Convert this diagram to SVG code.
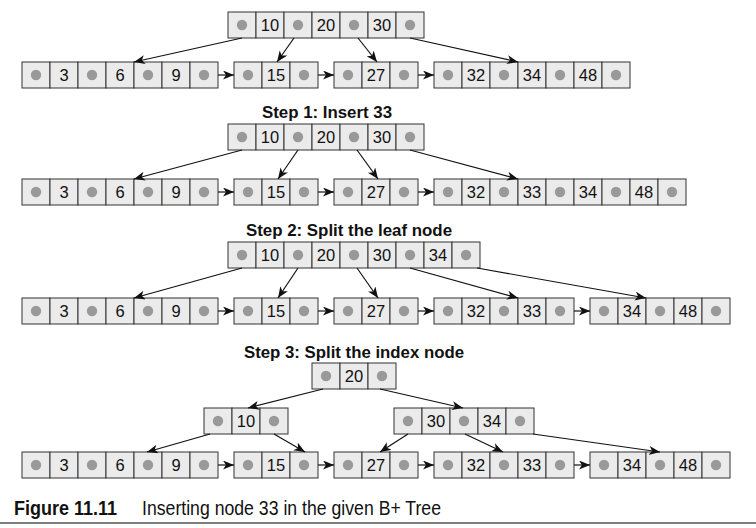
<svg xmlns="http://www.w3.org/2000/svg" xmlns:xlink="http://www.w3.org/1999/xlink" width="756" height="528" viewBox="0 0 756 528">
<style>
.c{fill:#ebebeb;stroke:#333;stroke-width:1}
.d{fill:#999}
.k{font-family:"Liberation Sans",Arial,sans-serif;font-size:16.5px;fill:#111;text-anchor:middle}
.t{font-family:"Liberation Sans",Arial,sans-serif;font-size:16px;font-weight:bold;fill:#111;text-anchor:middle}
.a{stroke:#111;stroke-width:1.2;fill:none;marker-end:url(#ah)}
.cap{font-family:"Liberation Sans",Arial,sans-serif;font-size:21px;fill:#111}
</style>
<defs>
<marker id="ah" markerUnits="userSpaceOnUse" markerWidth="12" markerHeight="10" refX="11" refY="4.5" orient="auto" viewBox="0 0 12 10">
<path d="M0,0 L11,4.5 L0,9 L3,4.5 z" fill="#111"/>
</marker>
<g id="p"><rect width="28" height="26" class="c"/><circle cx="14" cy="13" r="5.2" class="d"/></g>
<rect id="q" width="28" height="26" class="c"/>
</defs>
<rect width="756" height="528" fill="#fff"/>

<!-- Section 0 -->
<g id="s0-idx">
<use href="#p" x="228" y="12"/><use href="#q" x="256" y="12"/><use href="#p" x="284" y="12"/><use href="#q" x="312" y="12"/><use href="#p" x="340" y="12"/><use href="#q" x="368" y="12"/><use href="#p" x="396" y="12"/>
<text class="k" x="270" y="31">10</text><text class="k" x="326" y="31">20</text><text class="k" x="382" y="31">30</text>
</g>
<g id="s0-l1">
<use href="#p" x="22" y="62"/><use href="#q" x="50" y="62"/><use href="#p" x="78" y="62"/><use href="#q" x="106" y="62"/><use href="#p" x="134" y="62"/><use href="#q" x="162" y="62"/><use href="#p" x="190" y="62"/>
<text class="k" x="64" y="81">3</text><text class="k" x="120" y="81">6</text><text class="k" x="176" y="81">9</text>
</g>
<g id="s0-l2">
<use href="#p" x="234" y="62"/><use href="#q" x="262" y="62"/><use href="#p" x="290" y="62"/>
<text class="k" x="276" y="81">15</text>
</g>
<g id="s0-l3">
<use href="#p" x="334" y="62"/><use href="#q" x="362" y="62"/><use href="#p" x="390" y="62"/>
<text class="k" x="376" y="81">27</text>
</g>
<g id="s0-l4">
<use href="#p" x="434" y="62"/><use href="#q" x="462" y="62"/><use href="#p" x="490" y="62"/><use href="#q" x="518" y="62"/><use href="#p" x="546" y="62"/><use href="#q" x="574" y="62"/><use href="#p" x="602" y="62"/>
<text class="k" x="476" y="81">32</text><text class="k" x="532" y="81">34</text><text class="k" x="588" y="81">48</text>
</g>

<!-- Section 1 -->
<text class="t" x="327" y="118" textLength="130" lengthAdjust="spacingAndGlyphs">Step 1: Insert 33</text>
<g id="s1-idx">
<use href="#p" x="228" y="124"/><use href="#q" x="256" y="124"/><use href="#p" x="284" y="124"/><use href="#q" x="312" y="124"/><use href="#p" x="340" y="124"/><use href="#q" x="368" y="124"/><use href="#p" x="396" y="124"/>
<text class="k" x="270" y="143">10</text><text class="k" x="326" y="143">20</text><text class="k" x="382" y="143">30</text>
</g>
<g id="s1-l1">
<use href="#p" x="22" y="179"/><use href="#q" x="50" y="179"/><use href="#p" x="78" y="179"/><use href="#q" x="106" y="179"/><use href="#p" x="134" y="179"/><use href="#q" x="162" y="179"/><use href="#p" x="190" y="179"/>
<text class="k" x="64" y="198">3</text><text class="k" x="120" y="198">6</text><text class="k" x="176" y="198">9</text>
</g>
<g id="s1-l2">
<use href="#p" x="234" y="179"/><use href="#q" x="262" y="179"/><use href="#p" x="290" y="179"/>
<text class="k" x="276" y="198">15</text>
</g>
<g id="s1-l3">
<use href="#p" x="334" y="179"/><use href="#q" x="362" y="179"/><use href="#p" x="390" y="179"/>
<text class="k" x="376" y="198">27</text>
</g>
<g id="s1-l4">
<use href="#p" x="434" y="179"/><use href="#q" x="462" y="179"/><use href="#p" x="490" y="179"/><use href="#q" x="518" y="179"/><use href="#p" x="546" y="179"/><use href="#q" x="574" y="179"/><use href="#p" x="602" y="179"/><use href="#q" x="630" y="179"/><use href="#p" x="658" y="179"/>
<text class="k" x="476" y="198">32</text><text class="k" x="532" y="198">33</text><text class="k" x="588" y="198">34</text><text class="k" x="644" y="198">48</text>
</g>

<!-- Section 2 -->
<text class="t" x="349" y="236" textLength="206" lengthAdjust="spacingAndGlyphs">Step 2: Split the leaf node</text>
<g id="s2-idx">
<use href="#p" x="228" y="242"/><use href="#q" x="256" y="242"/><use href="#p" x="284" y="242"/><use href="#q" x="312" y="242"/><use href="#p" x="340" y="242"/><use href="#q" x="368" y="242"/><use href="#p" x="396" y="242"/><use href="#q" x="424" y="242"/><use href="#p" x="452" y="242"/>
<text class="k" x="270" y="261">10</text><text class="k" x="326" y="261">20</text><text class="k" x="382" y="261">30</text><text class="k" x="438" y="261">34</text>
</g>
<g id="s2-l1">
<use href="#p" x="22" y="298"/><use href="#q" x="50" y="298"/><use href="#p" x="78" y="298"/><use href="#q" x="106" y="298"/><use href="#p" x="134" y="298"/><use href="#q" x="162" y="298"/><use href="#p" x="190" y="298"/>
<text class="k" x="64" y="317">3</text><text class="k" x="120" y="317">6</text><text class="k" x="176" y="317">9</text>
</g>
<g id="s2-l2">
<use href="#p" x="234" y="298"/><use href="#q" x="262" y="298"/><use href="#p" x="290" y="298"/>
<text class="k" x="276" y="317">15</text>
</g>
<g id="s2-l3">
<use href="#p" x="334" y="298"/><use href="#q" x="362" y="298"/><use href="#p" x="390" y="298"/>
<text class="k" x="376" y="317">27</text>
</g>
<g id="s2-l4">
<use href="#p" x="434" y="298"/><use href="#q" x="462" y="298"/><use href="#p" x="490" y="298"/><use href="#q" x="518" y="298"/><use href="#p" x="546" y="298"/>
<text class="k" x="476" y="317">32</text><text class="k" x="532" y="317">33</text>
</g>
<g id="s2-l5">
<use href="#p" x="590" y="298"/><use href="#q" x="618" y="298"/><use href="#p" x="646" y="298"/><use href="#q" x="674" y="298"/><use href="#p" x="702" y="298"/>
<text class="k" x="632" y="317">34</text><text class="k" x="688" y="317">48</text>
</g>

<!-- Section 3 -->
<text class="t" x="354" y="358" textLength="220" lengthAdjust="spacingAndGlyphs">Step 3: Split the index node</text>
<g id="s3-root">
<use href="#p" x="312" y="363"/><use href="#q" x="340" y="363"/><use href="#p" x="368" y="363"/>
<text class="k" x="354" y="382">20</text>
</g>
<g id="s3-i1">
<use href="#p" x="204" y="408"/><use href="#q" x="232" y="408"/><use href="#p" x="260" y="408"/>
<text class="k" x="246" y="427">10</text>
</g>
<g id="s3-i2">
<use href="#p" x="394" y="408"/><use href="#q" x="422" y="408"/><use href="#p" x="450" y="408"/><use href="#q" x="478" y="408"/><use href="#p" x="506" y="408"/>
<text class="k" x="436" y="427">30</text><text class="k" x="492" y="427">34</text>
</g>
<g id="s3-l1">
<use href="#p" x="22" y="452"/><use href="#q" x="50" y="452"/><use href="#p" x="78" y="452"/><use href="#q" x="106" y="452"/><use href="#p" x="134" y="452"/><use href="#q" x="162" y="452"/><use href="#p" x="190" y="452"/>
<text class="k" x="64" y="471">3</text><text class="k" x="120" y="471">6</text><text class="k" x="176" y="471">9</text>
</g>
<g id="s3-l2">
<use href="#p" x="234" y="452"/><use href="#q" x="262" y="452"/><use href="#p" x="290" y="452"/>
<text class="k" x="276" y="471">15</text>
</g>
<g id="s3-l3">
<use href="#p" x="334" y="452"/><use href="#q" x="362" y="452"/><use href="#p" x="390" y="452"/>
<text class="k" x="376" y="471">27</text>
</g>
<g id="s3-l4">
<use href="#p" x="434" y="452"/><use href="#q" x="462" y="452"/><use href="#p" x="490" y="452"/><use href="#q" x="518" y="452"/><use href="#p" x="546" y="452"/>
<text class="k" x="476" y="471">32</text><text class="k" x="532" y="471">33</text>
</g>
<g id="s3-l5">
<use href="#p" x="590" y="452"/><use href="#q" x="618" y="452"/><use href="#p" x="646" y="452"/><use href="#q" x="674" y="452"/><use href="#p" x="702" y="452"/>
<text class="k" x="632" y="471">34</text><text class="k" x="688" y="471">48</text>
</g>

<g id="connectors">
<line class="a" x1="242" y1="38" x2="134" y2="62"/>
<line class="a" x1="294" y1="38" x2="277" y2="62"/>
<line class="a" x1="358" y1="38" x2="377" y2="62"/>
<line class="a" x1="410" y1="38" x2="518" y2="62"/>
<line class="a" x1="218" y1="75" x2="234" y2="75"/>
<line class="a" x1="318" y1="75" x2="334" y2="75"/>
<line class="a" x1="418" y1="75" x2="434" y2="75"/>

<line class="a" x1="242" y1="150" x2="134" y2="179"/>
<line class="a" x1="298" y1="150" x2="278" y2="179"/>
<line class="a" x1="357" y1="150" x2="378" y2="179"/>
<line class="a" x1="410" y1="150" x2="518" y2="179"/>
<line class="a" x1="218" y1="192" x2="234" y2="192"/>
<line class="a" x1="318" y1="192" x2="334" y2="192"/>
<line class="a" x1="418" y1="192" x2="434" y2="192"/>

<line class="a" x1="242" y1="268" x2="134" y2="298"/>
<line class="a" x1="298" y1="268" x2="278" y2="298"/>
<line class="a" x1="357" y1="268" x2="378" y2="298"/>
<line class="a" x1="410" y1="268" x2="518" y2="298"/>
<line class="a" x1="477" y1="268" x2="646" y2="298"/>
<line class="a" x1="218" y1="311" x2="234" y2="311"/>
<line class="a" x1="318" y1="311" x2="334" y2="311"/>
<line class="a" x1="418" y1="311" x2="434" y2="311"/>
<line class="a" x1="574" y1="311" x2="590" y2="311"/>

<line class="a" x1="323" y1="389" x2="248" y2="408"/>
<line class="a" x1="380" y1="389" x2="463" y2="408"/>
<line class="a" x1="210" y1="434" x2="147" y2="452"/>
<line class="a" x1="274" y1="434" x2="305" y2="452"/>
<line class="a" x1="408" y1="434" x2="380" y2="452"/>
<line class="a" x1="465" y1="434" x2="503" y2="452"/>
<line class="a" x1="533" y1="434" x2="660" y2="452"/>
<line class="a" x1="218" y1="465" x2="234" y2="465"/>
<line class="a" x1="318" y1="465" x2="334" y2="465"/>
<line class="a" x1="418" y1="465" x2="434" y2="465"/>
<line class="a" x1="574" y1="465" x2="590" y2="465"/>
</g>

<text class="cap" x="14" y="515" font-weight="bold" textLength="103" lengthAdjust="spacingAndGlyphs">Figure 11.11</text>
<text class="cap" x="142" y="515" textLength="299" lengthAdjust="spacingAndGlyphs">Inserting node 33 in the given B+ Tree</text>
<line x1="0" y1="523" x2="756" y2="523" stroke="#555" stroke-width="1.5"/>
</svg>
